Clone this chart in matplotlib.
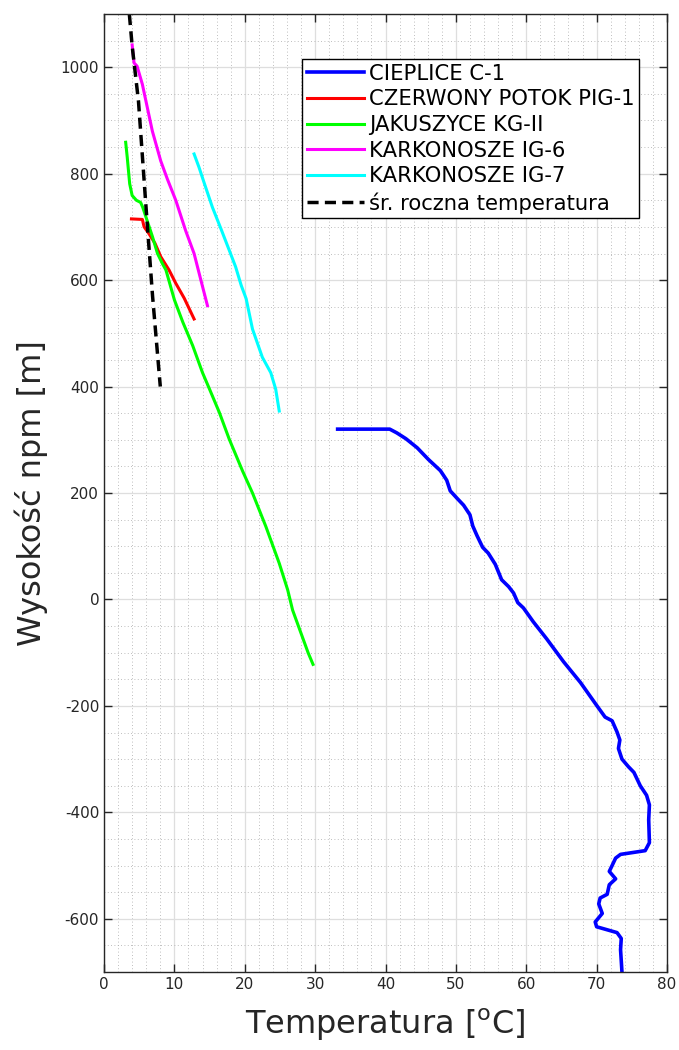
import matplotlib
matplotlib.use("Agg")
import matplotlib.pyplot as plt
from matplotlib.ticker import MultipleLocator

plt.rcParams['font.family'] = ['DejaVu Sans']
plt.rcParams['axes.unicode_minus'] = False

# ---- data ----
cieplice_T = [33.2, 40.6, 41.6, 42.9, 44.5, 46.1, 47.8, 48.7, 49.2, 50.1, 51.1, 52.0, 52.4,
              53.0, 53.8, 54.6, 55.6, 56.5, 57.5, 58.2, 58.8, 59.6, 61.0, 62.9, 65.3, 67.7,
              70.0, 71.2, 72.2, 72.9, 73.3, 73.1, 73.6, 74.5, 75.3, 76.2, 77.1, 77.5, 77.4,
              77.5, 76.9, 73.4, 72.7, 72.2, 71.8, 72.7, 71.8, 71.5, 70.5, 70.3, 70.8, 69.8,
              70.0, 72.9, 73.5, 73.4, 73.6]
cieplice_H = [320, 320, 313, 302, 285, 263, 242, 224, 204, 191, 177, 159, 138,
              120, 98, 87, 66, 37, 24, 12, -6, -16, -42, -74, -117, -156,
              -199, -221, -228, -249, -264, -280, -300, -314, -325, -350, -368, -386, -414,
              -457, -472, -479, -486, -500, -511, -525, -536, -554, -561, -572, -590, -606,
              -615, -626, -637, -658, -700]

czerwony_T = [3.9, 5.45, 5.7, 6.4, 7.25, 8.06, 9.24, 10.2, 11.4, 12.8]
czerwony_H = [715, 714, 700, 687, 669, 644, 619, 594, 566, 527]

jakuszyce_T = [3.08, 3.3, 3.65, 4.0, 4.6, 5.2, 5.5, 6.2, 6.9, 7.6, 8.3, 8.8, 10.0, 11.2,
               12.6, 14.0, 15.0, 16.4, 17.8, 19.7, 21.1, 23.0, 24.9, 26.1, 26.8, 29.0, 29.7]
jakuszyce_H = [859, 831, 781, 759, 750, 746, 737, 709, 681, 650, 631, 619, 563, 521,
               477, 426, 395, 351, 301, 241, 200, 137, 68, 18, -20, -100, -122]

ig6_T = [4.0, 4.27, 4.7, 5.45, 6.16, 6.87, 8.06, 9.0, 10.2, 11.6, 12.8, 14.0, 14.7]
ig6_H = [1042, 1008, 1002, 968, 924, 880, 824, 790, 750, 693, 650, 588, 552]

ig7_T = [12.8, 13.5, 14.2, 15.4, 16.6, 17.8, 18.7, 19.5, 20.2, 21.1, 22.5, 23.7, 24.4, 24.9]
ig7_H = [837, 812, 784, 737, 697, 656, 625, 590, 565, 508, 455, 426, 395, 354]

srednia_T = [3.6, 4.0, 4.9, 5.9, 6.9, 8.0]
srednia_H = [1100, 1040, 936, 750, 570, 400]

labels = ['CIEPLICE C-1', 'CZERWONY POTOK PIG-1', 'JAKUSZYCE KG-II',
          'KARKONOSZE IG-6', 'KARKONOSZE IG-7', 'śr. roczna temperatura']

# ---- figure ----
fig = plt.figure(figsize=(6.79, 10.5), dpi=100)
ax = fig.add_axes([104/679, 78/1050, 563/679, 958/1050])

lw = 2.2
ax.plot(cieplice_T, cieplice_H, color='#0000ff', lw=2.6, label=labels[0])
ax.plot(czerwony_T, czerwony_H, color='#ff0000', lw=lw, label=labels[1])
ax.plot(jakuszyce_T, jakuszyce_H, color='#00ff00', lw=lw, label=labels[2])
ax.plot(ig6_T, ig6_H, color='#ff00ff', lw=lw, label=labels[3])
ax.plot(ig7_T, ig7_H, color='#00ffff', lw=lw, label=labels[4])
ax.plot(srednia_T, srednia_H, color='black', lw=2.5, ls=(0, (3.2, 1.8)), label=labels[5])

ax.set_xlim(0, 80)
ax.set_ylim(-700, 1100)
ax.xaxis.set_major_locator(MultipleLocator(10))
ax.xaxis.set_minor_locator(MultipleLocator(2))
ax.yaxis.set_major_locator(MultipleLocator(200))
ax.yaxis.set_minor_locator(MultipleLocator(50))

ax.grid(True, which='major', color='#dedede', lw=0.9, ls='-')
ax.grid(True, which='minor', color='#a8a8a8', lw=0.6, ls=(0, (1, 3)))
ax.set_axisbelow(True)

ax.tick_params(which='major', direction='in', length=6, width=1,
               top=True, right=True, labelsize=11, colors='#262626')
ax.tick_params(which='minor', length=0)
for s in ax.spines.values():
    s.set_color('#262626')
    s.set_linewidth(1.0)

ax.set_xlabel('Temperatura [$^{\\mathregular{o}}$C]', fontsize=23, color='#262626', labelpad=11)
ax.set_ylabel('Wysokość npm [m]', fontsize=23, color='#262626', labelpad=9)

leg = ax.legend(loc='upper left', bbox_to_anchor=(0.352, 0.953), fontsize=15.2,
                frameon=True, fancybox=False, edgecolor='black', framealpha=1,
                handlelength=2.7, handletextpad=0.25, labelspacing=0.27,
                borderpad=0.22, borderaxespad=0)
leg.get_frame().set_linewidth(1.0)

fig.savefig('out.png', dpi=100)
